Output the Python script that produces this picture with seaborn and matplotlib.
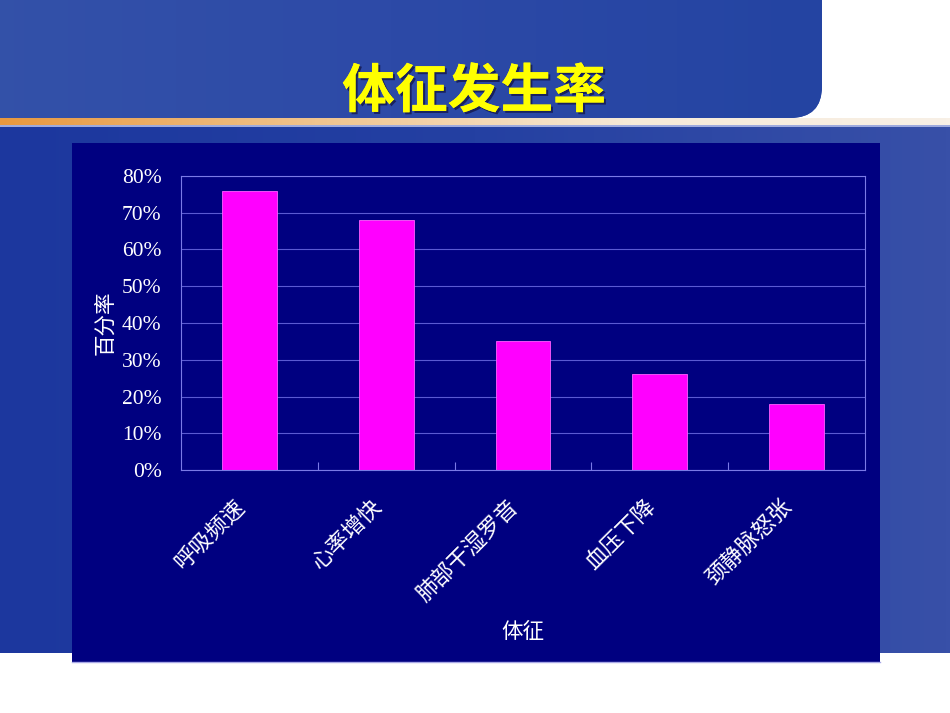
import numpy as np
import pandas as pd
import matplotlib
matplotlib.use('Agg')
import matplotlib.pyplot as plt
import matplotlib.patheffects as pe
from matplotlib.patches import Rectangle, FancyBboxPatch
from matplotlib.colors import LinearSegmentedColormap
from matplotlib.ticker import FixedLocator, PercentFormatter
import seaborn as sns

# data
categories = ['呼吸频速', '心率增快', '肺部干湿罗音', '血压下降', '颈静脉怒张']
rates = [76, 68, 35, 26, 18]
y_ticks = [0, 10, 20, 30, 40, 50, 60, 70, 80]

title = '体征发生率'
x_label = '体征'
y_label = '百分率'

W, H = 950, 713
plt.rcParams['font.family'] = ['Noto Sans CJK SC', 'DejaVu Sans']


def hgrad(ax, x0, x1, y0, y1, colors, clip=None, zorder=1):
    cmap = LinearSegmentedColormap.from_list('g', colors)
    im = ax.imshow(np.linspace(0, 1, 256)[None, :], cmap=cmap,
                   extent=[x0, x1, y1, y0], aspect='auto', zorder=zorder)
    if clip is not None:
        im.set_clip_path(clip)
    return im


fig = plt.figure(figsize=(9.5, 7.13), dpi=100)
fig.patch.set_facecolor('white')

# slide background (pixel coordinates)
bg = fig.add_axes([0, 0, 1, 1])

band = FancyBboxPatch((-40, -60), 862, 178, boxstyle='round,pad=0,rounding_size=32',
                      fc='#2b48a6', ec='none', zorder=1)
bg.add_patch(band)
hgrad(bg, -40, 822, -60, 118, ['#3452a9', '#2d4aa7', '#2444a2'], clip=band, zorder=2)

hgrad(bg, 0, W, 125, 653, ['#1c379e', '#2440a2', '#3850a8'], zorder=1)
hgrad(bg, 0, W, 118, 125, ['#e8983f', '#f0c48e', '#f6ead8', '#f8f0e6'], zorder=2)
bg.add_patch(Rectangle((0, 125), W, 2, fc='#9eaade', ec='none', zorder=2))

bg.add_patch(Rectangle((72, 143), 808, 519, fc='#000080', ec='none', zorder=3))
bg.plot([72, 880], [662, 662], color='#a8a8e6', lw=1, zorder=4)

bg.text(474, 92, title, fontsize=38, weight='bold', color='#ffff00',
        ha='center', va='center', zorder=5,
        path_effects=[pe.withSimplePatchShadow(offset=(1.5, -1.5), shadow_rgbFace='#101040', alpha=0.7),
                      pe.Normal()])
bg.set_xlim(0, W)
bg.set_ylim(H, 0)
bg.axis('off')

# chart
ax = fig.add_axes([181 / W, 1 - 470 / H, 684 / W, 294 / H])
ax.set_facecolor('#000080')

df = pd.DataFrame({x_label: categories, y_label: rates})
sns.barplot(data=df, x=x_label, y=y_label, color='#ff00ff', saturation=1,
            width=0.4, edgecolor='#ff60ff', linewidth=0.6, ax=ax)

ax.set_xlim(-0.5, len(categories) - 0.5)
ax.set_ylim(0, 80)
ax.yaxis.set_major_locator(FixedLocator(y_ticks))
ax.yaxis.set_major_formatter(PercentFormatter(decimals=0))
ax.grid(axis='y', color='#5a5ad2', lw=0.8)
ax.grid(axis='x', visible=False)
ax.set_axisbelow(True)
for s in ax.spines.values():
    s.set_color('#7a7ae6')
    s.set_linewidth(0.8)

ax.tick_params(axis='y', length=0, pad=14, labelsize=15.5, labelcolor='white')
for lbl in ax.get_yticklabels():
    lbl.set_family('Liberation Serif')

ax.tick_params(axis='x', length=0, pad=18, labelsize=16, labelcolor='white')
plt.setp(ax.get_xticklabels(), rotation=45, ha='right')
ax.set_xticks([0.5, 1.5, 2.5, 3.5], minor=True)
ax.tick_params(axis='x', which='minor', direction='in', length=6, color='#7a7ae6', width=0.8)

ax.set_xlabel(x_label, fontsize=15.5, color='white')
ax.xaxis.set_label_coords(0.5, -0.514)
ax.set_ylabel(y_label, fontsize=15.5, color='white')
ax.yaxis.set_label_coords(-0.095, 0.5)

fig.savefig('out.png', dpi=100)
